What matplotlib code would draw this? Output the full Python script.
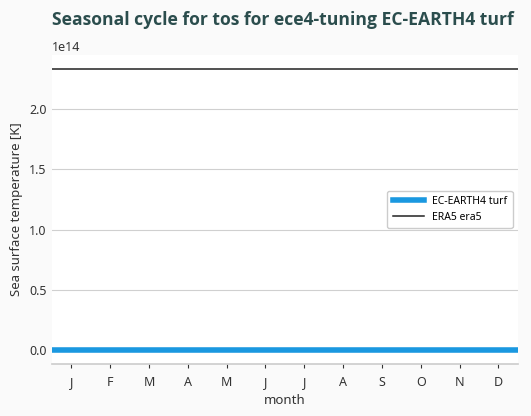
import matplotlib
matplotlib.use('Agg')
import matplotlib.pyplot as plt
import numpy as np

plt.rcParams['font.family'] = ['Noto Sans', 'DejaVu Sans']

# data
month_labels = ['J', 'F', 'M', 'A', 'M', 'J', 'J', 'A', 'S', 'O', 'N', 'D']
months = np.arange(1, 13)
month_edges = np.arange(0.5, 13.0, 1.0)
tos_model = [0.0] * 12            # EC-EARTH4 turf
tos_era5 = [2.333e14] * 12        # ERA5 era5

fig = plt.figure(figsize=(5.31, 4.16), dpi=100, facecolor='#fafafa')
ax = fig.add_axes([0.098, 0.125, 0.877, 0.743])
ax.set_facecolor('white')

ax.stairs(tos_model, month_edges, baseline=None, color='#1a98e0',
          linewidth=4, label='EC-EARTH4 turf')
ax.stairs(tos_era5, month_edges, baseline=None, color='#222222',
          linewidth=1.1, label='ERA5 era5')

ax.set_xlim(0.5, 12.5)
ax.set_xticks(months)
ax.set_xticklabels(month_labels)
ax.set_yticks([0, 0.5e14, 1.0e14, 1.5e14, 2.0e14])
ax.ticklabel_format(axis='y', style='sci', scilimits=(0, 0))
ax.yaxis.get_offset_text().set_fontsize(9)
ax.yaxis.get_offset_text().set_color('#333333')

ax.grid(axis='y', color='#d0d0d0', linewidth=0.8)
ax.set_axisbelow(True)
for s in ['left', 'right', 'top']:
    ax.spines[s].set_visible(False)
ax.spines['bottom'].set_color('#cccccc')
ax.spines['bottom'].set_linewidth(1.2)

ax.tick_params(axis='y', length=0, labelsize=9, labelcolor='#333333', pad=4)
ax.tick_params(axis='x', length=3, width=0.8, color='#333333',
               labelsize=9, labelcolor='#333333', pad=6)

ax.set_xlabel('month', fontsize=9.5, color='#333333', labelpad=3)
ax.set_ylabel('Sea surface temperature [K]', fontsize=9.5, color='#333333')

ax.legend(loc='center right', fontsize=7.5, frameon=True, framealpha=1,
          edgecolor='#cccccc', handlelength=3, borderpad=0.5)

fig.text(0.098, 0.953, 'Seasonal cycle for tos for ece4-tuning EC-EARTH4 turf',
         family='Open Sans', fontweight='bold', fontsize=12.6,
         color='#2b4d4d', ha='left', va='center')

fig.savefig('out.png', dpi=100, facecolor=fig.get_facecolor())
